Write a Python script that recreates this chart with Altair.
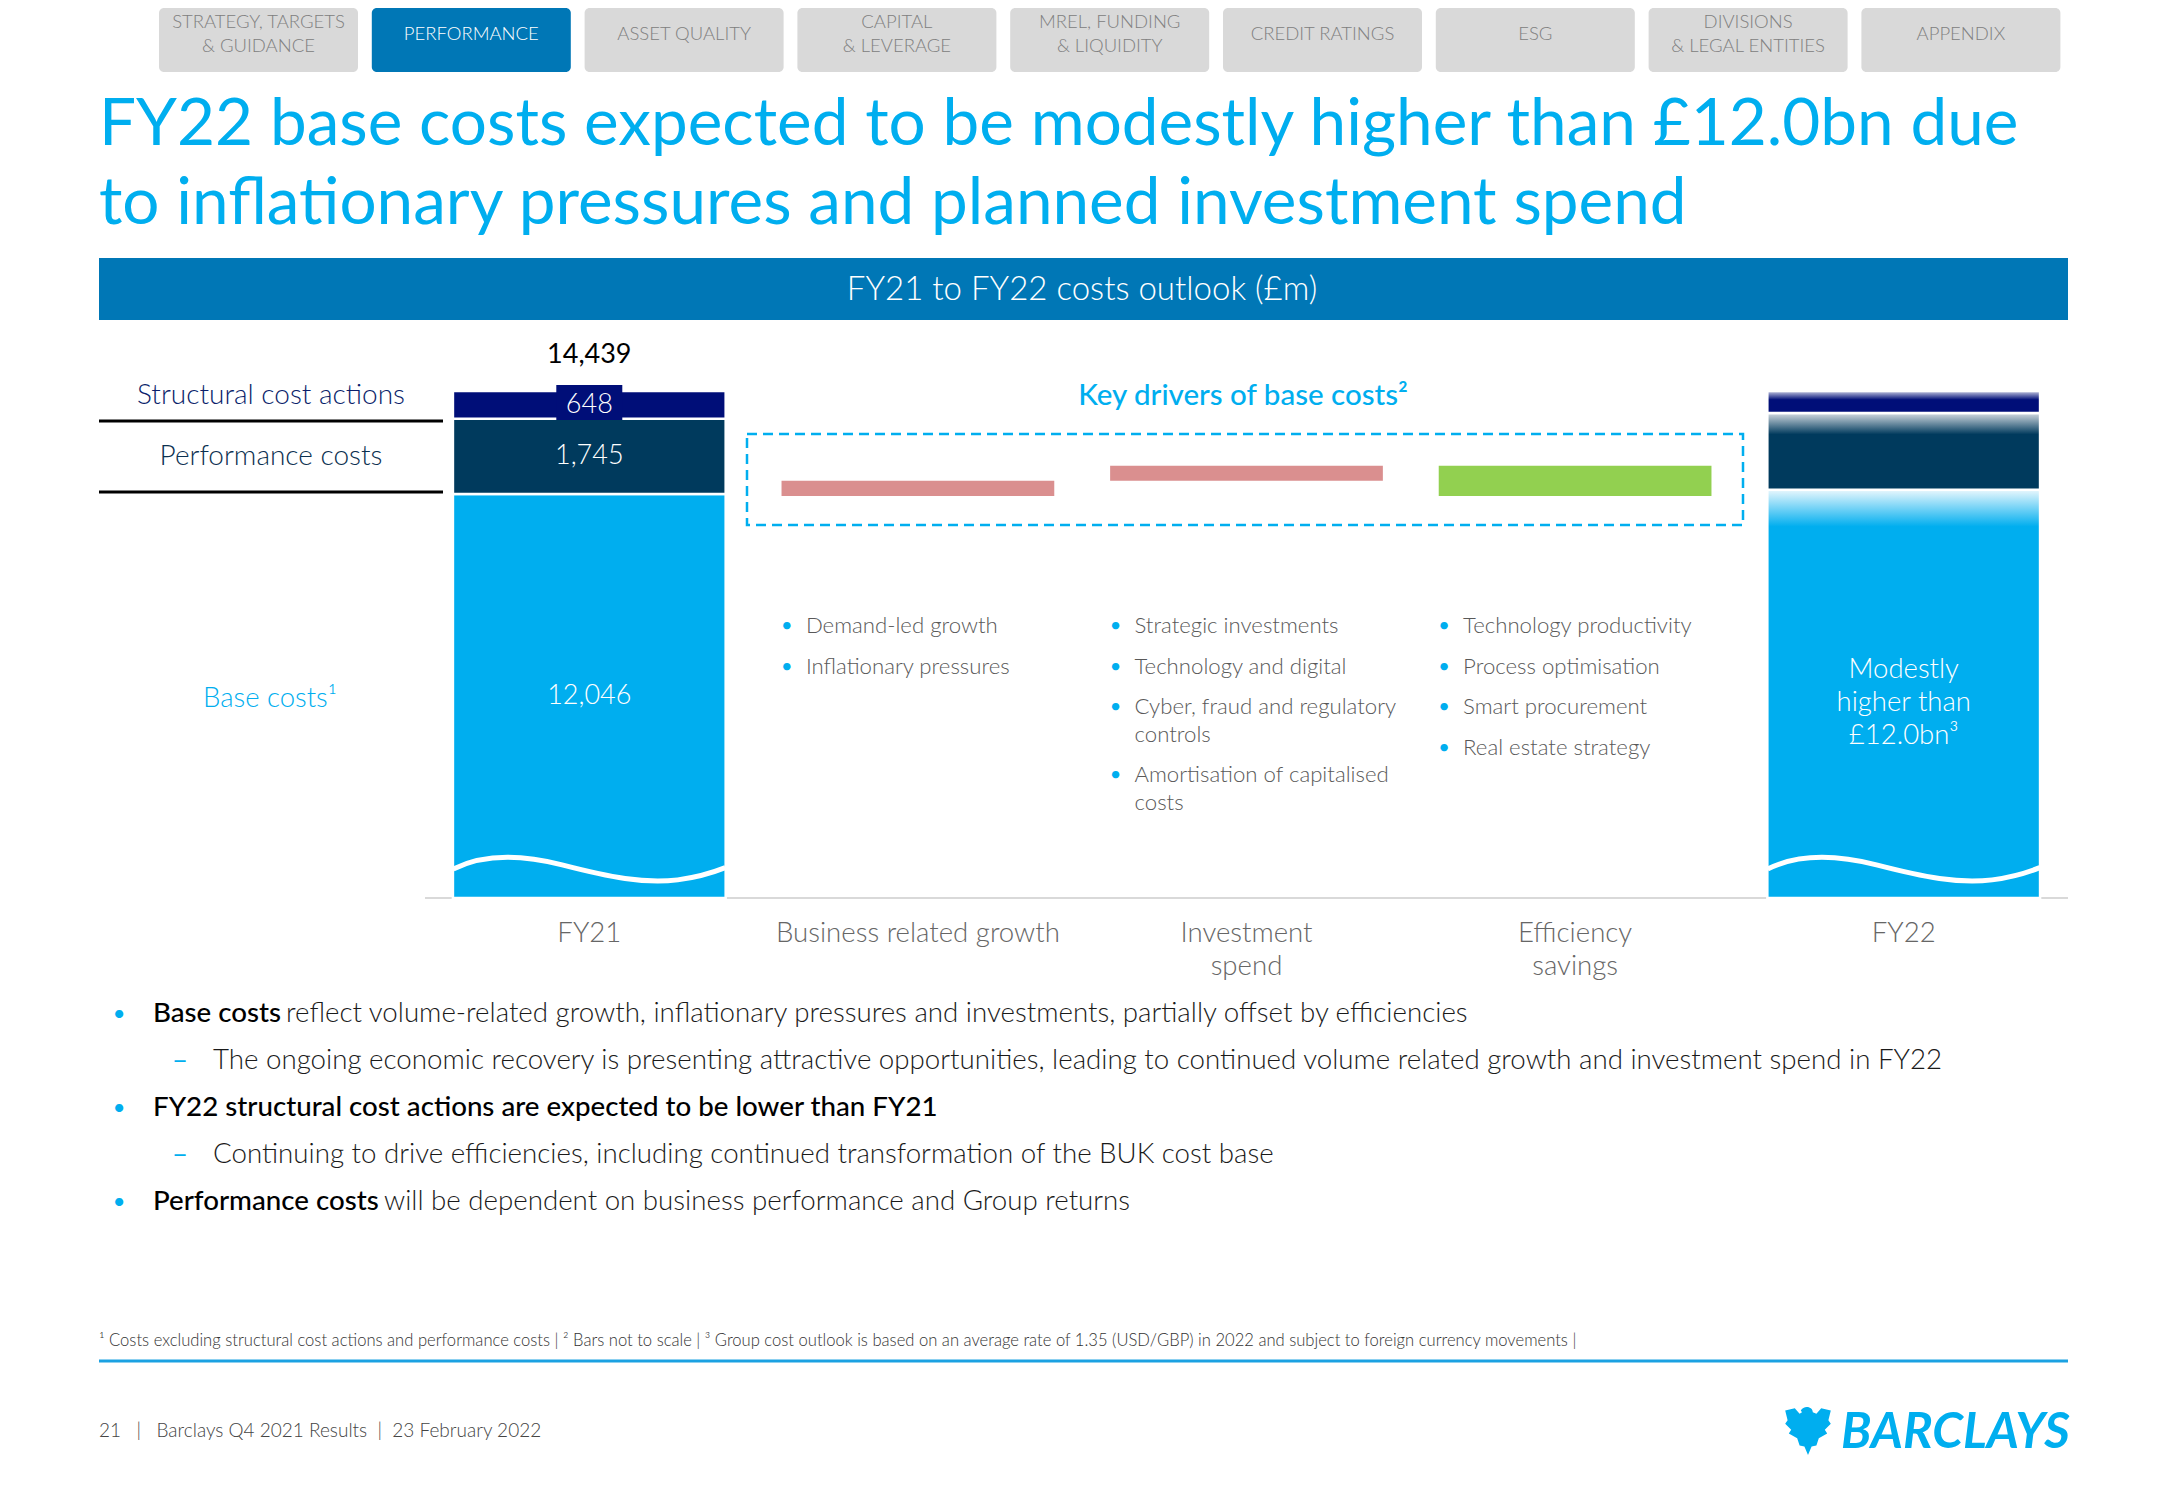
import altair as alt
import pandas as pd

# ---------------- data ----------------
categories = ["FY21", "Business related growth", "Investment spend", "Efficiency savings", "FY22"]
axis_label_lines = [["FY21"], ["Business related growth"], ["Investment", "spend"],
                    ["Efficiency", "savings"], ["FY22"]]
segments = ["Base costs", "Performance costs", "Structural cost actions"]
fy21_values = [12046, 1745, 648]
fy21_total = 14439
fy22_values = [12140, 1790, 510]          # illustrative bar (not labelled on slide)
driver_categories = ["Business related growth", "Investment spend", "Efficiency savings"]
driver_start = 12000
driver_changes = [350, 350, -700]         # bars not to scale
driver_bullets = [
    [["Demand-led growth"], ["Inflationary pressures"]],
    [["Strategic investments"], ["Technology and digital"],
     ["Cyber, fraud and regulatory", "controls"], ["Amortisation of capitalised", "costs"]],
    [["Technology productivity"], ["Process optimisation"], ["Smart procurement"],
     ["Real estate strategy"]],
]
fy22_note = ["Modestly", "higher than", "£12.0bn³"]
nav_tabs = [["STRATEGY, TARGETS", "& GUIDANCE"], ["PERFORMANCE"], ["ASSET QUALITY"],
            ["CAPITAL", "& LEVERAGE"], ["MREL, FUNDING", "& LIQUIDITY"], ["CREDIT RATINGS"],
            ["ESG"], ["DIVISIONS", "& LEGAL ENTITIES"], ["APPENDIX"]]
active_tab = 1
title_lines = ["FY22 base costs expected to be modestly higher than £12.0bn due",
               "to inflationary pressures and planned investment spend"]
banner_text = "FY21 to FY22 costs outlook (£m)"
footnote = ("¹ Costs excluding structural cost actions and performance costs | ² Bars not to scale | "
            "³ Group cost outlook is based on an average rate of 1.35 (USD/GBP) in 2022 and subject "
            "to foreign currency movements |")
NB = "\u00a0"
footer = f"21{NB*3}|{NB*3}Barclays Q4 2021 Results{NB*2}|{NB*2}23 February 2022"

# ---------------- style ----------------
FONT = "Lato"
CYAN = "#00AEEF"
BLUE = "#0077B6"
NAVY = "#000E78"
DNAVY = "#003A5D"
PINK = "#DA8F8F"
GREEN = "#92D050"
GREY_TXT = "#595959"
AXIS_FLOOR = 2650   # broken axis start

OFF = 8  # page margin
ONE = pd.DataFrame({"a": [1]})

xs = alt.Scale(domain=categories, range=[425 - OFF, 2068 - OFF], paddingInner=0.17, paddingOuter=0.085)
ys = alt.Scale(domain=[AXIS_FLOOR, fy21_total], range=[898 - OFF, 391 - OFF], clamp=True, zero=False, nice=False)
X = alt.X("cat:N", scale=xs, axis=None)


def txt(x, y, s, size, color="#000000", align="left", weight=400, baseline="middle", **kw):
    return alt.Chart(ONE).mark_text(text=s, font=FONT, fontSize=size, color=color, align=align,
                                    fontWeight=weight, baseline=baseline, **kw).encode(
        x=alt.value(x - OFF), y=alt.value(y - OFF))


def rect(x0, y0, x1, y1, **kw):
    return alt.Chart(ONE).mark_rect(**kw).encode(
        x=alt.value(x0 - OFF), x2=alt.value(x1 - OFF), y=alt.value(y0 - OFF), y2=alt.value(y1 - OFF))


def hline(x0, x1, y, color, width):
    return alt.Chart(ONE).mark_rule(color=color, strokeWidth=width).encode(
        x=alt.value(x0 - OFF), x2=alt.value(x1 - OFF), y=alt.value(y - OFF))


layers = []

# ---------------- navigation tabs ----------------
for i, lines in enumerate(nav_tabs):
    x0 = 159 + i * 212.8
    active = i == active_tab
    layers.append(rect(x0, 8, x0 + 199, 72, color=BLUE if active else "#D9D9D9", cornerRadius=5))
    ys_l = [34] if len(lines) == 1 else [22, 46]
    for ln, yy in zip(lines, ys_l):
        layers.append(txt(x0 + 99.5, yy, ln, 18.5, color="#FFFFFF" if active else "#808080",
                          align="center", weight=300))

# ---------------- title ----------------
layers.append(txt(99, 145, title_lines[0], 65.6, color=CYAN, baseline="alphabetic"))
layers.append(txt(99, 224, title_lines[1], 65.6, color=CYAN, baseline="alphabetic"))

# ---------------- banner ----------------
layers.append(rect(99, 258, 2068, 320, color=BLUE))
layers.append(txt(1082, 290, banner_text, 33, color="#FFFFFF", align="center", weight=300))

# ---------------- left labels ----------------
layers.append(txt(271, 396, "Structural cost actions", 28, color="#0B1F6B", align="center", weight=300))
layers.append(hline(99, 443, 421, "#000000", 3))
layers.append(txt(271, 457, "Performance costs", 28, color="#0B3050", align="center", weight=300))
layers.append(hline(99, 443, 492, "#000000", 3))
layers.append(txt(270, 699, "Base costs¹", 27.5, color=CYAN, align="center", weight=300))

# axis baseline
layers.append(hline(425, 2068, 898, "#D9D9D9", 2))


# ---------------- stacked bars ----------------
def stack(cat, vals):
    rows, lo = [], 0
    for seg, v in zip(segments, vals):
        rows.append(dict(cat=cat, seg=seg, value=v, lo=lo, hi=lo + v,
                         mid=(max(lo, AXIS_FLOOR) + lo + v) / 2))
        lo += v
    return pd.DataFrame(rows)


df21 = stack("FY21", fy21_values)
df22 = stack("FY22", fy22_values)

layers.append(alt.Chart(df21).mark_bar(stroke="white", strokeWidth=2.5).encode(
    x=X, y=alt.Y("hi:Q", scale=ys, axis=None), y2="lo",
    color=alt.Color("seg:N", scale=alt.Scale(domain=segments, range=[CYAN, DNAVY, NAVY]), legend=None)))

grads = {
    "Base costs": [(0, "#E8F7FD"), (0.09, CYAN), (1, CYAN)],
    "Performance costs": [(0, "#D5DCE2"), (0.28, DNAVY), (1, DNAVY)],
    "Structural cost actions": [(0, "#C9CCE4"), (0.4, NAVY), (1, NAVY)],
}
for seg in segments:
    g = alt.LinearGradient(gradient="linear", x1=0, x2=0, y1=0, y2=1,
                           stops=[alt.GradientStop(offset=o, color=c) for o, c in grads[seg]])
    layers.append(alt.Chart(df22[df22.seg == seg]).mark_bar(color=g, stroke="white", strokeWidth=2.5).encode(
        x=X, y=alt.Y("hi:Q", scale=ys, axis=None), y2="lo"))

# wave decoration at the bottom of the two full bars
WAVE = "M -1 0 C -0.8 -0.1 -0.55 -0.12 -0.2 -0.03 C 0.15 0.06 0.4 0.11 0.65 0.08 C 0.8 0.06 0.9 0.03 1 -0.01"
wave_df = pd.DataFrame({"cat": ["FY21", "FY22"]})
layers.append(alt.Chart(wave_df).mark_point(shape=WAVE, size=272 ** 2, filled=False, stroke="white",
                                            strokeWidth=5, opacity=1).encode(
    x=X, y=alt.value(869 - OFF)))

# 648 box + labels
layers.append(alt.Chart(pd.DataFrame({"cat": ["FY21"]})).mark_bar(width=66, color=NAVY).encode(
    x=X, y=alt.value(385 - OFF), y2=alt.value(420 - OFF)))
lab21 = df21.assign(label=[f"{v:,}" for v in df21.value])
layers.append(alt.Chart(lab21).mark_text(font=FONT, fontSize=27, color="white", fontWeight=300,
                                         baseline="middle").encode(
    x=X, y=alt.Y("mid:Q", scale=ys, axis=None), text="label:N"))
layers.append(alt.Chart(pd.DataFrame({"cat": ["FY21"], "total": [fy21_total]})).mark_text(
    font=FONT, fontSize=27, color="#000000", fontWeight=400, baseline="middle").encode(
    x=X, y=alt.value(355 - OFF), text=alt.Text("total:Q", format=",")))

# FY22 note
note_df = pd.DataFrame({"cat": ["FY22"] * 3, "t": fy22_note, "i": [0, 1, 2]})
for i, t in enumerate(fy22_note):
    layers.append(alt.Chart(note_df[note_df.i == i]).mark_text(
        font=FONT, fontSize=27.5, color="white", fontWeight=300, baseline="middle").encode(
        x=X, y=alt.value(670 + i * 33 - OFF), text="t:N"))

# ---------------- key drivers ----------------
layers.append(txt(1243, 396, "Key drivers of base costs²", 29.5, color=CYAN, align="center", weight=500))
layers.append(rect(747, 434, 1743, 525, fillOpacity=0, stroke=CYAN, strokeWidth=2.5, strokeDash=[10, 6]))
drv_rows, level = [], driver_start
for c, d, col in zip(driver_categories, driver_changes, [PINK, PINK, GREEN]):
    drv_rows.append(dict(cat=c, start=level, end=level + d, col=col))
    level += d
drv = pd.DataFrame(drv_rows)
layers.append(alt.Chart(drv).mark_bar().encode(
    x=X, y=alt.Y("end:Q", scale=ys, axis=None), y2="start",
    color=alt.Color("col:N", scale=None)))

# bullet columns
brow = []
for c, items in zip(driver_categories, driver_bullets):
    extra = 0
    for i, item in enumerate(items):
        for j, ln in enumerate(item):
            yy = 626 + i * 40.5 + (extra + j) * 27.6
            brow.append(dict(cat=c, t=ln, bullet=(j == 0), ypx=yy - OFF))
        extra += len(item) - 1
bdf = pd.DataFrame(brow)
layers.append(alt.Chart(bdf).mark_text(font=FONT, fontSize=22.2, color=GREY_TXT, fontWeight=300,
                                       align="left", baseline="middle", dx=-112).encode(
    x=X, y=alt.Y("ypx:Q", scale=None), text="t:N"))
layers.append(alt.Chart(bdf[bdf.bullet]).mark_text(text="•", font=FONT, fontSize=20, color=CYAN,
                                                   align="center", baseline="middle", dx=-131).encode(
    x=X, y=alt.Y("ypx:Q", scale=None)))

# x-axis labels
for li in range(2):
    rows = [dict(cat=c, t=ls[li]) for c, ls in zip(categories, axis_label_lines) if len(ls) > li]
    layers.append(alt.Chart(pd.DataFrame(rows)).mark_text(
        font=FONT, fontSize=27.6, color="#666666", fontWeight=300, baseline="middle").encode(
        x=X, y=alt.value(934 + li * 33 - OFF), text="t:N"))

# ---------------- bottom bullets ----------------
BODY = 27.7
layers.append(txt(119, 1014, "•", 22, color=CYAN, align="center"))
layers.append(txt(153, 1014, "Base costs", BODY, weight=500))
layers.append(txt(286, 1014, "reflect volume-related growth, inflationary pressures and investments, "
                            "partially offset by efficiencies", BODY, color="#1A1A1A", weight=300))
layers.append(txt(180, 1061, "–", BODY, color=CYAN, align="center"))
layers.append(txt(213, 1061, "The ongoing economic recovery is presenting attractive opportunities, leading to "
                            "continued volume related growth and investment spend in FY22", BODY,
                  color="#1A1A1A", weight=300))
layers.append(txt(119, 1108, "•", 22, color=CYAN, align="center"))
layers.append(txt(153, 1108, "FY22 structural cost actions are expected to be lower than FY21", BODY, weight=500))
layers.append(txt(180, 1155, "–", BODY, color=CYAN, align="center"))
layers.append(txt(213, 1155, "Continuing to drive efficiencies, including continued transformation of the BUK "
                            "cost base", BODY, color="#1A1A1A", weight=300))
layers.append(txt(119, 1202, "•", 22, color=CYAN, align="center"))
layers.append(txt(153, 1202, "Performance costs", BODY, weight=500))
layers.append(txt(384, 1202, "will be dependent on business performance and Group returns", BODY,
                  color="#1A1A1A", weight=300))

# ---------------- footnote / footer ----------------
layers.append(txt(99, 1341, footnote, 16.6, color="#333333", weight=300))
layers.append(hline(99, 2068, 1361, "#1BA1E2", 3))
layers.append(txt(99, 1431, footer, 19, color="#444444", weight=300))

EAGLE = ("M -0.05 -1 C 0.1 -1 0.2 -0.9 0.2 -0.78 L 0.35 -0.72 L 0.55 -0.95 L 0.95 -0.85 L 0.85 -0.45 "
         "L 0.95 -0.3 L 0.7 -0.05 L 0.8 0.1 L 0.45 0.3 L 0.35 0.6 L 0.15 0.65 L 0 1 L -0.15 0.65 "
         "L -0.35 0.6 L -0.45 0.3 L -0.8 0.1 L -0.7 -0.05 L -0.95 -0.3 L -0.85 -0.45 L -0.95 -0.85 "
         "L -0.55 -0.95 L -0.35 -0.72 L -0.25 -0.78 L -0.3 -0.85 C -0.25 -0.95 -0.15 -1 -0.05 -1 Z")
layers.append(alt.Chart(ONE).mark_point(shape=EAGLE, size=48 ** 2, filled=True, color=CYAN, opacity=1).encode(
    x=alt.value(1808 - OFF), y=alt.value(1431 - OFF)))
layers.append(txt(1841, 1433, "BARCLAYS", 49.5, color=CYAN, weight=700, fontStyle="italic"))

chart = alt.layer(*layers).properties(
    width=2150, height=1484, padding=0, autosize=alt.AutoSizeParams(type="none")
).configure_view(strokeWidth=0)

chart.save("out.html", embed_options={"renderer": "svg", "actions": False})
